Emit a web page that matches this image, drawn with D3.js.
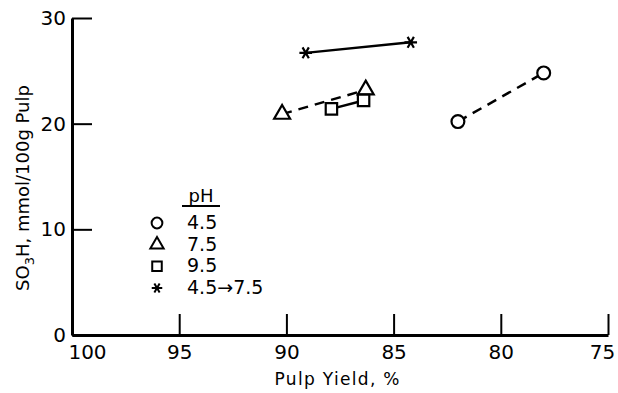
<!DOCTYPE html>
<html>
<head>
<script src="https://cdn.jsdelivr.net/npm/d3@7"></script>
<style type="text/css">
  body{
    margin: 0px;
    background: white;
  }
  svg text{
    font-family: 'DejaVu Sans', sans-serif;
    fill: black;
  }
</style>
</head>
<body>

<svg id="chart" width="618" height="393"></svg>

<script>

// values (pulp yield %, SO3H mmol/100g pulp)
var yield45 = [82.0, 78.0];
var so3h45 = [20.2, 24.8];
var yield75 = [90.2, 86.3];
var so3h75 = [20.9, 23.2];
var yield95 = [87.9, 86.4];
var so3h95 = [21.4, 22.2];
var yieldShift = [89.1, 84.2];
var so3hShift = [26.7, 27.7];

var phLabels = ["4.5", "7.5", "9.5", "4.5\u21927.5"];
var xTicks = [100, 95, 90, 85, 80, 75];
var yTicks = [0, 10, 20, 30];

var svg = d3.select("#chart");

var x = d3.scaleLinear().domain([100, 75]).range([72, 608]);
var y = d3.scaleLinear().domain([0, 30]).range([335, 18]);

// asterisk with a horizontal arm
var starSymbol = {
  draw: function(ctx, size) {
    var r = Math.sqrt(size) * 0.6;
    for (var k = 0; k < 3; k++) {
      var a = k * Math.PI / 3;
      ctx.moveTo(-r * Math.cos(a), -r * Math.sin(a));
      ctx.lineTo(r * Math.cos(a), r * Math.sin(a));
    }
  }
};

var series = [
  {xs: yield45, ys: so3h45, sym: d3.symbolCircle, size: 130, dash: "10,7"},
  {xs: yield75, ys: so3h75, sym: d3.symbolTriangle, size: 110, dash: "10,7"},
  {xs: yield95, ys: so3h95, sym: d3.symbolSquare, size: 130, dash: null},
  {xs: yieldShift, ys: so3hShift, sym: starSymbol, size: 110, dash: null}
];

// axes
var xAxis = svg.append("g")
  .attr("transform", "translate(0," + y(0) + ")")
  .call(d3.axisBottom(x).tickValues(xTicks).tickSizeInner(-21).tickSizeOuter(0).tickPadding(10));

xAxis.select(".domain").attr("stroke-width", 3);
xAxis.selectAll(".tick line").attr("stroke-width", 2);
xAxis.selectAll(".tick text")
  .style("font-size", "20px")
  .attr("dx", function(d) { return d === 100 ? 15 : (d === 75 ? -6 : 0); });

var yAxis = svg.append("g")
  .attr("transform", "translate(" + x(100) + ",0)")
  .call(d3.axisLeft(y).tickValues(yTicks).tickSizeInner(-20).tickSizeOuter(0).tickPadding(6));

yAxis.select(".domain").attr("stroke-width", 3);
yAxis.selectAll(".tick line").attr("stroke-width", 2);
yAxis.selectAll(".tick text").style("font-size", "20px");

// axis titles
svg.append("text")
  .attr("x", 337)
  .attr("y", 385)
  .attr("text-anchor", "middle")
  .style("font-size", "17px")
  .attr("textLength", 125)
  .attr("lengthAdjust", "spacing")
  .text("Pulp Yield, %");

var yTitle = svg.append("text")
  .attr("transform", "translate(29,188) rotate(-90)")
  .attr("text-anchor", "middle")
  .style("font-size", "18px");
yTitle.append("tspan").text("SO");
yTitle.append("tspan").attr("dy", 5).style("font-size", "13px").text("3");
yTitle.append("tspan").attr("dy", -5).text("H, mmol/100g Pulp");

// lines + markers
var line = d3.line()
  .x(function(d) { return x(d[0]); })
  .y(function(d) { return y(d[1]); });

series.forEach(function(s) {
  var pts = d3.zip(s.xs, s.ys);

  svg.append("path")
    .datum(pts)
    .attr("d", line)
    .attr("fill", "none")
    .attr("stroke", "black")
    .attr("stroke-width", 2.5)
    .attr("stroke-dasharray", s.dash);

  svg.selectAll(null)
    .data(pts)
    .enter()
    .append("path")
    .attr("transform", function(d) { return "translate(" + x(d[0]) + "," + y(d[1]) + ")"; })
    .attr("d", d3.symbol().type(s.sym).size(s.size))
    .attr("fill", "white")
    .attr("stroke", "black")
    .attr("stroke-width", 2.2);
});

// legend
var legend = svg.append("g");

legend.append("text")
  .attr("x", 201)
  .attr("y", 202)
  .attr("text-anchor", "middle")
  .style("font-size", "18px")
  .text("pH");

legend.append("line")
  .attr("x1", 182).attr("x2", 220)
  .attr("y1", 206).attr("y2", 206)
  .attr("stroke", "black")
  .attr("stroke-width", 2);

var rowY = d3.scalePoint().domain(phLabels).range([223, 288]);

legend.selectAll(".legMark")
  .data(series)
  .enter()
  .append("path")
  .attr("class", "legMark")
  .attr("transform", function(d, i) { return "translate(157," + rowY(phLabels[i]) + ")"; })
  .attr("d", function(d) { return d3.symbol().type(d.sym).size(d.size * 0.7)(); })
  .attr("fill", "white")
  .attr("stroke", "black")
  .attr("stroke-width", 2);

legend.selectAll(".legText")
  .data(phLabels)
  .enter()
  .append("text")
  .attr("class", "legText")
  .attr("x", 187)
  .attr("y", function(d) { return rowY(d) + 6; })
  .style("font-size", "19px")
  .text(function(d) { return d; });

</script>

</body>
</html>
